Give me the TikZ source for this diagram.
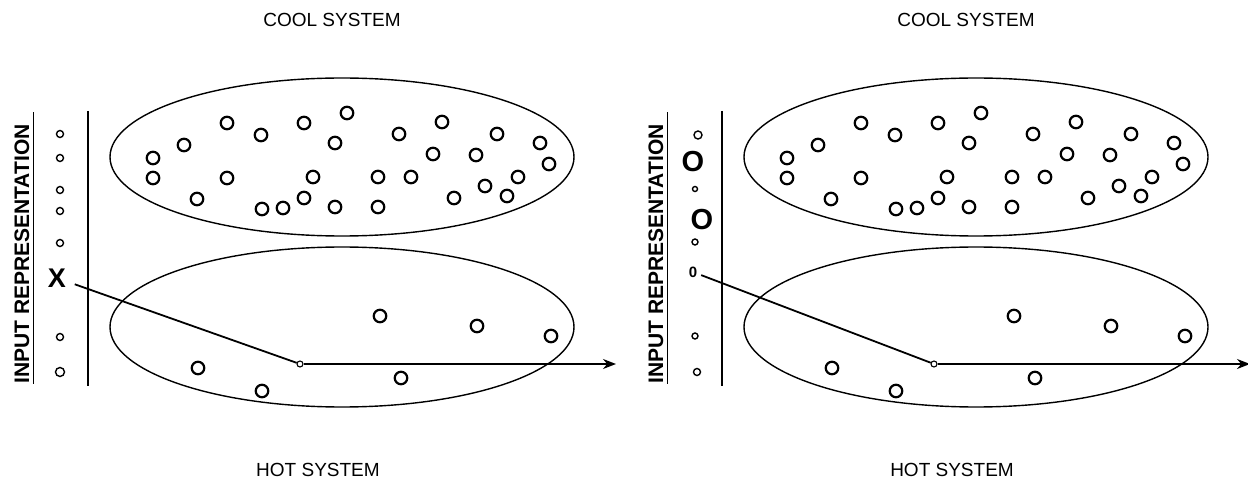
\documentclass[tikz,border=0pt]{standalone}
\usepackage{fontspec}
\setmainfont{Liberation Sans}
\usetikzlibrary{arrows.meta}

\begin{document}
\begin{tikzpicture}[x=1pt,y=-1pt,>={Stealth[length=13pt,width=10pt]},
  unit node/.style={circle,draw,line width=2.2pt,minimum size=12.5pt,inner sep=0pt},
  input node/.style={circle,draw,line width=1.4pt,inner sep=0pt},
  hub node/.style={circle,draw,line width=1.1pt,minimum size=6pt,inner sep=0pt},
  label node/.style={font=\fontsize{19}{22}\selectfont},
  side node/.style={font=\fontsize{21}{24}\selectfont\bfseries,rotate=90,inner sep=0pt}]

  \useasboundingbox (0,0) rectangle (1248,481);

  % the two panels share everything but the input column
  \foreach \s/\p in {0/l,634/r} {
    \begin{scope}[xshift=\s]
      \node[label node] (cool\p) at (332,20) {COOL SYSTEM};
      \node[label node] (hot\p) at (318,470) {HOT SYSTEM};
      \node[side node] (inp\p) at (22,254) {INPUT REPRESENTATION};
      \draw[line width=1.2pt] ([xshift=4pt]inp\p.south west) -- ([xshift=4pt,yshift=12pt]inp\p.south east);
      \draw[line width=1.5pt] (88,111) -- (88,386);

      \draw[line width=1.4pt] (342,157) ellipse [x radius=232, y radius=79];
      \draw[line width=1.4pt] (342,327) ellipse [x radius=232, y radius=80];

      \foreach \x/\y [count=\k] in {227/123,261/135,304/123,184/145,153/158,153/178,227/178,
          197/199,262/209,283/208,304/198,313/177,347/113,335/143,335/207,399/134,442/122,
          433/154,378/177,411/177,378/207,497/134,476/155,540/143,549/164,518/177,485/186,
          454/198,507/196}
        \node[unit node] (c\p\k) at (\x,\y) {};

      \foreach \x/\y [count=\k] in {198/368,262/391,380/316,477/326,551/336,401/378}
        \node[unit node] (h\p\k) at (\x,\y) {};

      \node[hub node] (hub\p) at (300,364) {};
      \coordinate (out\p) at (616,364);
      \draw[->,line width=1.6pt] (hub\p) -- (out\p);
    \end{scope}
  }

  % left input: a clamped unit
  \foreach \y/\r [count=\k] in {134/3.5,158/3.5,190/3.5,211/3.5,243/3.5,337/3.5,372/4.5}
    \node[input node,minimum size=\r*2pt] (il\k) at (60,\y) {};
  \node[font=\fontsize{27}{27}\selectfont\bfseries,inner sep=1pt] (x) at (57,278) {X};
  \draw[line width=1.8pt,shorten <=8pt] (x) -- (hubl);

  % right input
  \foreach \x/\y/\r [count=\k] in {698/135/4,695/189/2.5,695/242/3,695/336/3,697/372/3.5}
    \node[input node,minimum size=\r*2pt] (ir\k) at (\x,\y) {};
  \node[font=\fontsize{29}{29}\selectfont\bfseries,inner sep=0pt] (big1) at (693,162) {O};
  \node[font=\fontsize{29}{29}\selectfont\bfseries,inner sep=0pt] (big2) at (702,220) {O};
  \node[font=\fontsize{15}{15}\selectfont\bfseries,inner sep=1pt] (zero) at (693,272) {0};
  \draw[line width=1.8pt,shorten <=3pt] (zero) -- (hubr);

\end{tikzpicture}
\end{document}
